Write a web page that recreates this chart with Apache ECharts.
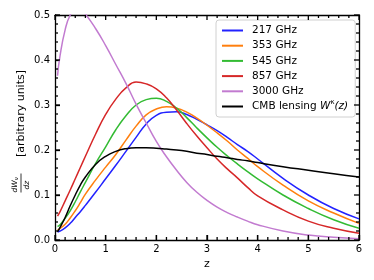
<!DOCTYPE html>
<html><head><meta charset="utf-8">
<script src="https://cdn.jsdelivr.net/npm/echarts@6/dist/echarts.min.js"></script>
<style>html,body{margin:0;padding:0;background:#fff}#c{width:374px;height:280px}</style>
</head><body><div id="c"></div>
<script>
const zVals = [0.05,0.1,0.2,0.3,0.4,0.5,0.6,0.8,1.0,1.2,1.4,1.6,1.8,2.0,2.2,2.4,2.6,2.8,3.0,3.2,3.4,3.6,3.8,4.0,4.5,5.0,5.5,6.0];
const ghz217 = [0.018,0.020,0.027,0.037,0.050,0.063,0.077,0.106,0.136,0.166,0.197,0.228,0.258,0.277,0.284,0.285,0.279,0.268,0.256,0.243,0.228,0.212,0.197,0.180,0.137,0.100,0.070,0.047];
const ghz353 = [0.022,0.026,0.035,0.049,0.065,0.083,0.102,0.133,0.162,0.190,0.222,0.253,0.278,0.291,0.296,0.293,0.284,0.271,0.255,0.238,0.220,0.200,0.182,0.163,0.122,0.087,0.060,0.037];
const ghz545 = [0.030,0.034,0.048,0.065,0.085,0.107,0.128,0.170,0.207,0.245,0.276,0.300,0.312,0.315,0.308,0.293,0.272,0.249,0.227,0.206,0.187,0.169,0.152,0.136,0.100,0.070,0.045,0.026];
const ghz857 = [0.053,0.063,0.087,0.111,0.136,0.161,0.186,0.235,0.279,0.313,0.338,0.351,0.347,0.336,0.316,0.289,0.259,0.231,0.205,0.180,0.158,0.138,0.117,0.098,0.067,0.042,0.026,0.015];
const ghz3000 = [0.365,0.410,0.467,0.500,0.512,0.513,0.502,0.470,0.432,0.390,0.348,0.302,0.260,0.219,0.185,0.155,0.128,0.106,0.088,0.073,0.061,0.051,0.042,0.034,0.020,0.011,0.006,0.003];
const cmbLensing = [0.018,0.028,0.050,0.076,0.100,0.122,0.140,0.168,0.186,0.197,0.203,0.205,0.205,0.204,0.202,0.200,0.197,0.193,0.190,0.186,0.183,0.179,0.176,0.172,0.163,0.155,0.147,0.140];
const seriesNames = ['217 GHz','353 GHz','545 GHz','857 GHz','3000 GHz','CMB lensing W^κ(z)'];
const seriesVals = [ghz217, ghz353, ghz545, ghz857, ghz3000, cmbLensing];
const colors = ['#2222ff','#ff7f0e','#33bb33','#d62728','#c27bd0','#000000'];
const xTicks = [0,1,2,3,4,5,6];
const yTicks = [0,0.1,0.2,0.3,0.4,0.5];
const minorPerMajor = 5;

const X0 = xTicks[0], X1 = xTicks[xTicks.length-1];
const Y0 = yTicks[0], Y1 = yTicks[yTicks.length-1];
function tickList(ticks){
  const out = [];
  for (let i = 0; i < ticks.length; i++) {
    out.push([ticks[i], 1]);
    if (i < ticks.length - 1) {
      const step = (ticks[i+1] - ticks[i]) / minorPerMajor;
      for (let k = 1; k < minorPerMajor; k++) out.push([ticks[i] + k*step, 0]);
    }
  }
  return out;
}
const xTickData = tickList(xTicks).map(t => [t[0], Y0, t[1]]);
const yTickData = tickList(yTicks).map(t => [X0, t[0], t[1]]);

const chart = echarts.init(document.getElementById('c'), null, {renderer:'canvas'});
const F = 'DejaVu Sans';
const axLine = {show:true,onZero:false,lineStyle:{color:'#000',width:1.3}};
const MAJ = 5, MIN = 3, TW = 1.3;
function renderXTick(params, api){
  const v = api.value(0), major = api.value(2);
  const b = api.coord([v, Y0]), t = api.coord([v, Y1]);
  const L = major ? MAJ : MIN;
  return {type:'group',children:[
    {type:'line',shape:{x1:b[0],y1:b[1],x2:b[0],y2:b[1]-L},style:{stroke:'#000',lineWidth:TW}},
    {type:'line',shape:{x1:t[0],y1:t[1],x2:t[0],y2:t[1]+L},style:{stroke:'#000',lineWidth:TW}}
  ]};
}
function renderYTick(params, api){
  const v = api.value(1), major = api.value(2);
  const l = api.coord([X0, v]), r = api.coord([X1, v]);
  const L = major ? MAJ : MIN;
  return {type:'group',children:[
    {type:'line',shape:{x1:l[0],y1:l[1],x2:l[0]+L,y2:l[1]},style:{stroke:'#000',lineWidth:TW}},
    {type:'line',shape:{x1:r[0],y1:r[1],x2:r[0]-L,y2:r[1]},style:{stroke:'#000',lineWidth:TW}}
  ]};
}
chart.setOption({
  animation:false,
  color:colors,
  grid:{left:55,right:15,top:15,bottom:40},
  xAxis:[
    {type:'value',min:X0,max:X1,interval:1,position:'bottom',
      name:'z',nameLocation:'middle',nameGap:17,nameTextStyle:{fontFamily:F,fontSize:11,color:'#000'},
      axisLine:axLine,axisTick:{show:true,inside:true,length:MAJ,lineStyle:{color:'#000',width:TW}},splitLine:{show:false},
      axisLabel:{show:true,fontFamily:F,fontSize:10,color:'#000',margin:4}},
    {type:'value',min:X0,max:X1,interval:1,position:'top',
      axisLine:axLine,axisTick:{show:false},axisLabel:{show:false},splitLine:{show:false}}
  ],
  yAxis:[
    {type:'value',min:Y0,max:Y1,interval:0.1,position:'left',
      axisLine:axLine,axisTick:{show:true,inside:true,length:MAJ,lineStyle:{color:'#000',width:TW}},splitLine:{show:false},
      axisLabel:{show:true,fontFamily:F,fontSize:10,color:'#000',margin:5,formatter:v=>v.toFixed(1)}},
    {type:'value',min:Y0,max:Y1,interval:0.1,position:'right',
      axisLine:axLine,axisTick:{show:false},axisLabel:{show:false},splitLine:{show:false}}
  ],
  legend:{
    orient:'vertical',left:216,top:20,
    data:seriesNames,
    icon:'rect',itemWidth:21,itemHeight:2,itemGap:0.2,
    backgroundColor:'rgba(255,255,255,0.85)',borderColor:'#d0d0d0',borderWidth:1,borderRadius:3,
    padding:[3,7,3,6],
    formatter:function(n){ return n.indexOf('CMB')===0 ? 'CMB lensing {i|W}{s|κ}{i|(z)}' : n; },
    textStyle:{fontFamily:F,fontSize:10.5,color:'#000',lineHeight:15,padding:[0,0,0,4],
      rich:{i:{fontFamily:F,fontStyle:'italic',fontSize:10.5,color:'#000',lineHeight:15},
            s:{fontFamily:F,fontSize:7,color:'#000',verticalAlign:'top',lineHeight:15,padding:[0,0,6,0]}}}
  },
  graphic:[
    {type:'text',left:16,top:70,rotation:Math.PI/2,
      style:{text:'[arbitrary units]',font:'11px "DejaVu Sans"',fill:'#000'}},
    {type:'group',left:11,top:171,children:[
      {type:'text',x:0,y:19,rotation:Math.PI/2,style:{text:'{a|dW}{b|ν}',fill:'#000',
        rich:{a:{fontFamily:F,fontStyle:'italic',fontSize:7.5,fill:'#000'},b:{fontFamily:F,fontSize:5.5,fill:'#000',padding:[4,0,0,0]}}}},
      {type:'line',shape:{x1:11,y1:0,x2:11,y2:19},style:{stroke:'#000',lineWidth:0.8}},
      {type:'text',x:13,y:16,rotation:Math.PI/2,style:{text:'dz',font:'italic 7.5px "DejaVu Sans"',fill:'#000'}}
    ]}
  ],
  series:seriesNames.map((n,i)=>({
    name:n,type:'line',smooth:0.5,symbol:'none',clip:true,z:3,
    lineStyle:{width:1.5,color:colors[i]},itemStyle:{color:colors[i]},
    data:zVals.map((z,k)=>[z,seriesVals[i][k]])
  })).concat([
    {name:'xticks',type:'custom',coordinateSystem:'cartesian2d',clip:false,silent:true,z:5,renderItem:renderXTick,data:xTickData,xAxisIndex:0,yAxisIndex:0},
    {name:'yticks',type:'custom',coordinateSystem:'cartesian2d',clip:false,silent:true,z:5,renderItem:renderYTick,data:yTickData,xAxisIndex:0,yAxisIndex:0}
  ])
});
</script></body></html>
